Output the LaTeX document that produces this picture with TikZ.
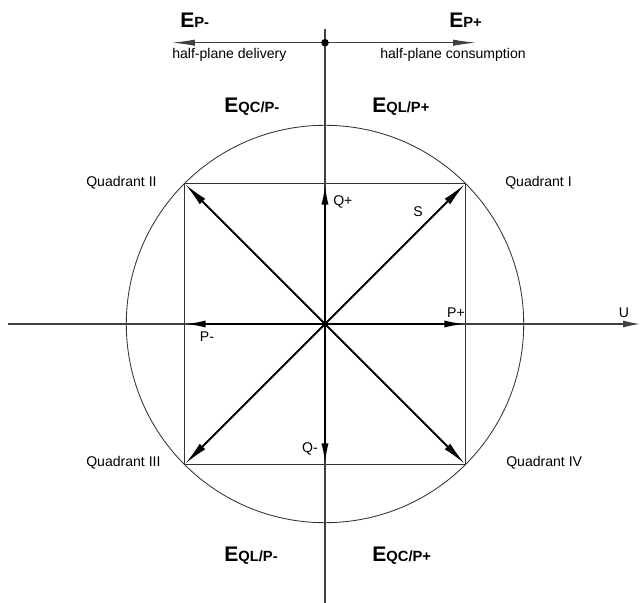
\documentclass[tikz,border=0pt]{standalone}
\usepackage{fontspec}
\setmainfont{Liberation Sans}
\usetikzlibrary{arrows.meta}

% energy register label: big E with small index on the baseline
\newcommand{\energy}[1]{{\bfseries\fontsize{15}{15}\selectfont E\fontsize{10.5}{10.5}\selectfont #1}}

\begin{document}
\begin{tikzpicture}[x=0.025cm,y=-0.025cm,
  thinline/.style={black!80, line width=0.6pt},
  axisline/.style={black!75, line width=1pt},
  vector/.style={black, line width=1.5pt, -{Latex[length=15pt,width=5pt]}},
  diagvector/.style={vector, -{Latex[length=18pt,width=5.5pt]}},
  halfarrow/.style={black!75, line width=1.1pt, -{Latex[length=17pt,width=4.5pt]}},
  lbl/.style={font=\fontsize{10}{12}\selectfont, inner sep=0pt},
  elbl/.style={anchor=base west, inner sep=0pt}]
\useasboundingbox (0,0) rectangle (640,603);

% Centre, square corners and side points
\coordinate (o) at (325,324);
\coordinate (c1) at (465.5,183.5);
\coordinate (c2) at (184.5,183.5);
\coordinate (c3) at (184.5,464.5);
\coordinate (c4) at (465.5,464.5);
\coordinate (pp) at (465.5,324);
\coordinate (pm) at (184.5,324);
\coordinate (qp) at (325,183.5);
\coordinate (qm) at (325,464.5);

% Circle and square
\draw[thinline] (o) circle (198.7);
\draw[thinline] (c1) -- (c2) -- (c3) -- (c4) -- cycle;

% Axes
\coordinate (uleft) at (8,324);
\coordinate (uright) at (640,324);
\coordinate (vtop) at (325,29);
\coordinate (vbot) at (325,603);
\draw[axisline, -{Latex[length=12pt,width=5pt]}] (uleft) -- (uright);
\draw[axisline] (vtop) -- (vbot);

% Half-plane arrows
\coordinate (dot) at (325,42.7);
\coordinate (hleft) at (171,42.7);
\coordinate (hright) at (477,42.7);
\draw[halfarrow] (dot) -- (hleft);
\draw[halfarrow] (dot) -- (hright);
\fill (dot) circle (3.8);

% Vectors
\draw[vector] (o) -- (pp);
\draw[vector] (o) -- (pm);
\draw[vector] (o) -- (qp);
\draw[vector] (o) -- (qm);
\draw[diagvector] (o) -- (c1);
\draw[diagvector] (o) -- (c2);
\draw[diagvector] (o) -- (c3);
\draw[diagvector] (o) -- (c4);

% Energy labels
\node[elbl] (epm) at (180,28) {\energy{P-}};
\node[elbl] (epp) at (449,28) {\energy{P+}};
\node[elbl] (eqcpm) at (224,113) {\energy{QC/P-}};
\node[elbl] (eqlpp) at (372,113) {\energy{QL/P+}};
\node[elbl] (eqlpm) at (224,562) {\energy{QL/P-}};
\node[elbl] (eqcpp) at (372,562) {\energy{QC/P+}};

% Half-plane texts
\node[lbl, anchor=west] (deliv) at (172,55) {half-plane delivery};
\node[lbl, anchor=west] (consu) at (380,55) {half-plane consumption};

% Quadrant names
\node[lbl, anchor=west] (quad1) at (505,183) {Quadrant I};
\node[lbl, anchor=west] (quad2) at (86,183) {Quadrant II};
\node[lbl, anchor=west] (quad3) at (86,463) {Quadrant III};
\node[lbl, anchor=west] (quad4) at (506,463) {Quadrant IV};

% Vector names
\node[lbl] (lpp) at (456,313) {P+};
\node[lbl] (lpm) at (207,337) {P-};
\node[lbl, anchor=west] (lqp) at (333,202) {Q+};
\node[lbl] (lqm) at (310,449) {Q-};
\node[lbl] (ls) at (418,212) {S};
\node[lbl] (lu) at (624,313) {U};
\end{tikzpicture}
\end{document}
